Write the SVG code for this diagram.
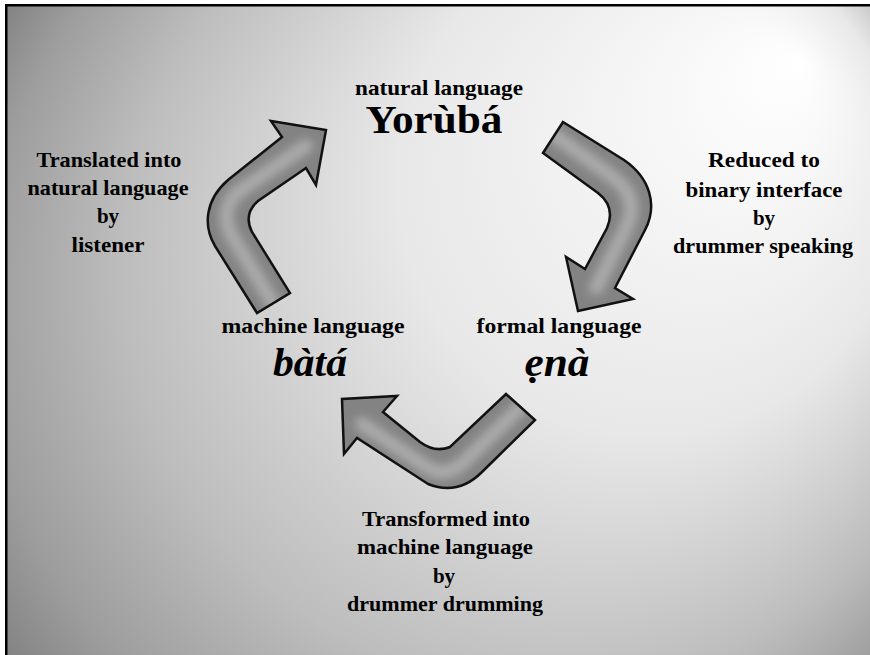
<svg xmlns="http://www.w3.org/2000/svg" width="870" height="655" viewBox="0 0 870 655">
  <style>
    text { font-family: 'Liberation Serif', 'Times New Roman', Times, serif; font-weight: 700; fill: #000; text-anchor: middle; }
    .lbl { font-size: 21px; }
    .big { font-size: 39px; }
    .bigi { font-size: 41px; font-style: italic; }
    .body { fill: #838383; }
    .shine { fill: none; stroke: #ababab; stroke-width: 14; stroke-linecap: round; stroke-linejoin: round; filter: url(#soft); }
    .outline { fill: none; stroke: #111; stroke-width: 2.5; stroke-linejoin: miter; }
  </style>
  <defs>
    <radialGradient id="bg" gradientUnits="userSpaceOnUse" cx="470" cy="330" r="560" fx="800" fy="60">
      <stop offset="0" stop-color="#ffffff"/>
      <stop offset="0.45" stop-color="#e8e8e8"/>
      <stop offset="0.76" stop-color="#bdbdbd"/>
      <stop offset="0.92" stop-color="#9d9d9d"/>
      <stop offset="1" stop-color="#858585"/>
    </radialGradient>
    <filter id="soft" x="-20%" y="-20%" width="140%" height="140%">
      <feGaussianBlur stdDeviation="5"/>
    </filter>
    <path id="shapeA" d="M 257 313 L 215 246 C 203 226 205 200 228 180 L 282 137 L 271 121 L 326 130 L 316 185 L 306 168 L 258 201 Q 243 214 252 232 L 290 293 Z"/>
    <path id="shapeB" d="M 563 122 L 624 160 C 650 178 658 205 645 230 L 615 288 L 633 299 L 578 311 L 566 257 L 585 269 L 607 228 Q 616 207 598 193 L 543 153 Z"/>
    <path id="shapeC" d="M 506 394 L 535 420 L 482 472 Q 458 496 428 484 L 357 438 L 344 454 L 342 399 L 397 396 L 383 412 L 420 442 Q 435 453 450 447 Z"/>
    <clipPath id="clipA"><use href="#shapeA"/></clipPath>
    <clipPath id="clipB"><use href="#shapeB"/></clipPath>
    <clipPath id="clipC"><use href="#shapeC"/></clipPath>
  </defs>

  <rect x="0" y="0" width="870" height="655" fill="#ffffff"/>
  <rect x="6" y="5" width="864" height="650" fill="url(#bg)"/>
  <rect x="5" y="4" width="865" height="2.5" fill="#000"/>
  <rect x="5" y="4" width="2.5" height="651" fill="#000"/>

  <g id="connectors">
    <g id="arrow-bata-to-yoruba">
      <use href="#shapeA" class="body"/>
      <g clip-path="url(#clipA)">
        <path class="shine" d="M 276 308 L 232 236 C 222 218 225 200 244 188 L 306 146"/>
      </g>
      <use href="#shapeA" class="outline"/>
    </g>
    <g id="arrow-yoruba-to-ena">
      <use href="#shapeB" class="body"/>
      <g clip-path="url(#clipB)">
        <path class="shine" d="M 550 132 L 610 175 C 632 190 636 208 626 228 L 596 288"/>
      </g>
      <use href="#shapeB" class="outline"/>
    </g>
    <g id="arrow-ena-to-bata">
      <use href="#shapeC" class="body"/>
      <g clip-path="url(#clipC)">
        <path class="shine" d="M 524 404 L 466 460 C 452 474 440 476 425 466 L 362 424"/>
      </g>
      <use href="#shapeC" class="outline"/>
    </g>
  </g>

  <g id="node-yoruba">
    <text class="lbl" x="439" y="95" textLength="168" lengthAdjust="spacingAndGlyphs">natural  language</text>
    <text class="big" x="434" y="133" textLength="137" lengthAdjust="spacingAndGlyphs">Yorùbá</text>
  </g>
  <g id="node-bata">
    <text class="lbl" x="313" y="333" textLength="183" lengthAdjust="spacingAndGlyphs">machine  language</text>
    <text class="bigi" x="310" y="376" textLength="74" lengthAdjust="spacingAndGlyphs">bàtá</text>
  </g>
  <g id="node-ena">
    <text class="lbl" x="559" y="333" textLength="165" lengthAdjust="spacingAndGlyphs">formal  language</text>
    <text class="bigi" x="557" y="376" textLength="65" lengthAdjust="spacingAndGlyphs">ẹnà</text>
  </g>

  <g id="label-listener">
    <text class="lbl" x="109" y="167" textLength="145" lengthAdjust="spacingAndGlyphs">Translated into</text>
    <text class="lbl" x="108" y="195" textLength="161" lengthAdjust="spacingAndGlyphs">natural language</text>
    <text class="lbl" x="108" y="223">by</text>
    <text class="lbl" x="108" y="252" textLength="73" lengthAdjust="spacingAndGlyphs">listener</text>
  </g>
  <g id="label-speaking">
    <text class="lbl" x="764" y="167" textLength="112" lengthAdjust="spacingAndGlyphs">Reduced to</text>
    <text class="lbl" x="764" y="197" textLength="157" lengthAdjust="spacingAndGlyphs">binary  interface</text>
    <text class="lbl" x="764" y="225">by</text>
    <text class="lbl" x="763" y="253" textLength="180" lengthAdjust="spacingAndGlyphs">drummer speaking</text>
  </g>
  <g id="label-drumming">
    <text class="lbl" x="446" y="526" textLength="168" lengthAdjust="spacingAndGlyphs">Transformed into</text>
    <text class="lbl" x="445" y="554" textLength="176" lengthAdjust="spacingAndGlyphs">machine language</text>
    <text class="lbl" x="444" y="583">by</text>
    <text class="lbl" x="445" y="611" textLength="196" lengthAdjust="spacingAndGlyphs">drummer drumming</text>
  </g>
</svg>
